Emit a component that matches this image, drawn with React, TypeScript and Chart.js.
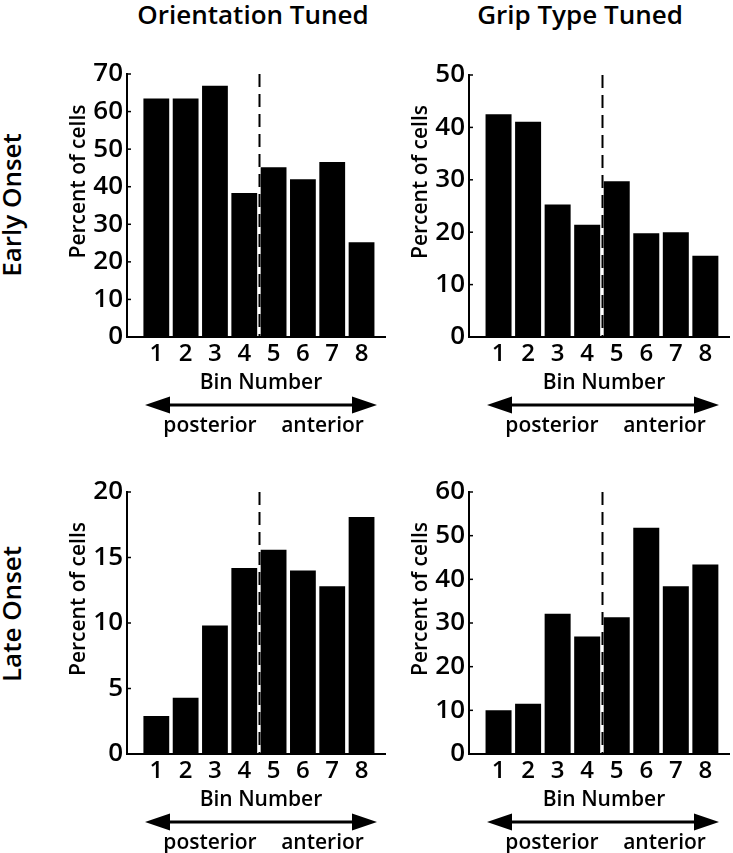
import React, { useEffect, useRef } from 'react';
import { Chart, registerables } from 'chart.js';

Chart.register(...registerables);

// ---- data ----
const bins = [1, 2, 3, 4, 5, 6, 7, 8];
const binTickLabels = ['1', '2', '3', '4', '5', '6', '7', '8'];
const orientationEarly = [63.5, 63.5, 66.9, 38.3, 45.2, 42.0, 46.6, 25.2];
const gripEarly = [42.5, 41.1, 25.3, 21.4, 29.7, 19.8, 20.0, 15.5];
const orientationLate = [2.9, 4.3, 9.8, 14.2, 15.6, 14.0, 12.8, 18.1];
const gripLate = [10.0, 11.5, 32.1, 26.9, 31.3, 51.8, 38.4, 43.4];
const yMaxes = [70, 50, 20, 60];
const ySteps = [10, 10, 5, 10];
const xMax = 8.8;
const boundaryBin = 4.5;
const columnTitles = ['Orientation Tuned', 'Grip Type Tuned'];
const rowTitles = ['Early Onset', 'Late Onset'];
const xTitle = 'Bin Number';
const yTitle = 'Percent of cells';
const posteriorLabel = 'posterior';
const anteriorLabel = 'anterior';

const FONT = "'Open Sans', 'DejaVu Sans', sans-serif";
const WEIGHT = 600;
const Y_AXIS_W = 50;
const X_AXIS_H = 30;

type Area = { left: number; top: number; right: number; bottom: number };
type Box = { left: number; top: number; width: number; height: number };

const panels: { values: number[]; yMax: number; step: number; box: Box; area: Area }[] = [
  { values: orientationEarly, yMax: yMaxes[0], step: ySteps[0], box: { left: 40, top: 45, width: 360, height: 400 }, area: { left: 127, top: 74, right: 385, bottom: 337 } },
  { values: gripEarly, yMax: yMaxes[1], step: ySteps[1], box: { left: 400, top: 45, width: 333, height: 400 }, area: { left: 469, top: 75, right: 729, bottom: 337 } },
  { values: orientationLate, yMax: yMaxes[2], step: ySteps[2], box: { left: 40, top: 460, width: 360, height: 393 }, area: { left: 127, top: 492, right: 385, bottom: 754 } },
  { values: gripLate, yMax: yMaxes[3], step: ySteps[3], box: { left: 400, top: 460, width: 333, height: 393 }, area: { left: 469, top: 492, right: 729, bottom: 754 } },
];

const decorPlugin = {
  id: 'decor',
  afterDatasetsDraw(chart: any) {
    const { ctx, chartArea: a, scales } = chart;
    const x = scales.x;
    const y = scales.y;
    ctx.save();
    ctx.strokeStyle = '#000';
    ctx.fillStyle = '#000';
    // boundary dashed line
    const bx = Math.round(x.getPixelForValue(boundaryBin)) + 0.5;
    ctx.lineWidth = 2;
    ctx.setLineDash([13, 7]);
    ctx.beginPath();
    ctx.moveTo(bx, a.top);
    ctx.lineTo(bx, a.bottom);
    ctx.stroke();
    ctx.setLineDash([]);
    // inward y ticks
    ctx.lineWidth = 1.5;
    y.ticks.forEach((t: any) => {
      const py = y.getPixelForValue(t.value);
      ctx.beginPath();
      ctx.moveTo(a.left, py);
      ctx.lineTo(a.left + 4, py);
      ctx.stroke();
    });
    // y title
    ctx.font = `${WEIGHT} 21px ${FONT}`;
    ctx.save();
    ctx.translate(a.left - 42, (a.top + a.bottom) / 2 - 24);
    ctx.rotate(-Math.PI / 2);
    ctx.textAlign = 'center';
    ctx.textBaseline = 'alphabetic';
    ctx.fillText(yTitle, 0, 0);
    ctx.restore();
    // x title
    ctx.textAlign = 'center';
    ctx.textBaseline = 'alphabetic';
    ctx.fillText(xTitle, x.getPixelForValue(boundaryBin) + 2, a.bottom + 52);
    // arrow
    const ay = a.bottom + 68;
    const x0 = a.left + 18;
    const x1 = a.left + 250;
    const hl = 25;
    const hh = 8.5;
    ctx.lineWidth = 3;
    ctx.beginPath();
    ctx.moveTo(x0 + hl - 2, ay);
    ctx.lineTo(x1 - hl + 2, ay);
    ctx.stroke();
    ctx.beginPath();
    ctx.moveTo(x0, ay);
    ctx.lineTo(x0 + hl, ay - hh);
    ctx.lineTo(x0 + hl, ay + hh);
    ctx.closePath();
    ctx.fill();
    ctx.beginPath();
    ctx.moveTo(x1, ay);
    ctx.lineTo(x1 - hl, ay - hh);
    ctx.lineTo(x1 - hl, ay + hh);
    ctx.closePath();
    ctx.fill();
    // direction labels
    ctx.fillText(posteriorLabel, a.left + 83, a.bottom + 95);
    ctx.fillText(anteriorLabel, a.left + 195.5, a.bottom + 95);
    ctx.restore();
  },
};

function Panel({ values, yMax, step, box, area }: { values: number[]; yMax: number; step: number; box: Box; area: Area }) {
  const ref = useRef<HTMLCanvasElement | null>(null);
  useEffect(() => {
    if (!ref.current) return;
    const chart = new Chart(ref.current, {
      type: 'bar',
      data: {
        datasets: [
          {
            data: bins.map((b, i) => ({ x: b, y: values[i] })),
            backgroundColor: '#000',
            borderWidth: 0,
            barPercentage: 0.88,
            categoryPercentage: 1,
          },
        ],
      },
      options: {
        animation: false,
        responsive: false,
        maintainAspectRatio: false,
        events: [],
        layout: {
          padding: {
            left: area.left - box.left - Y_AXIS_W,
            top: area.top - box.top,
            right: box.left + box.width - area.right,
            bottom: box.top + box.height - area.bottom - X_AXIS_H,
          },
        },
        plugins: { legend: { display: false }, tooltip: { enabled: false }, title: { display: false } },
        scales: {
          x: {
            type: 'linear',
            min: 0,
            max: xMax,
            offset: false,
            afterBuildTicks: (s: any) => {
              s.ticks = bins.map((v) => ({ value: v }));
            },
            afterFit: (s: any) => {
              s.height = X_AXIS_H;
            },
            grid: { display: false, drawTicks: false },
            border: { display: true, color: '#000', width: 2 },
            ticks: {
              color: '#000',
              font: { family: FONT, size: 24, weight: WEIGHT },
              padding: 3,
              autoSkip: false,
              maxRotation: 0,
              callback: (v: any) => binTickLabels[bins.indexOf(Number(v))] ?? '',
            },
          },
          y: {
            min: 0,
            max: yMax,
            afterFit: (s: any) => {
              s.width = Y_AXIS_W;
            },
            grid: { display: false, drawTicks: false },
            border: { display: true, color: '#000', width: 2 },
            ticks: { stepSize: step, color: '#000', font: { family: FONT, size: 26, weight: WEIGHT }, padding: 4 },
          },
        },
      } as any,
      plugins: [decorPlugin],
    } as any);
    return () => chart.destroy();
  }, [values, yMax, step, box, area]);
  return (
    <canvas
      ref={ref}
      width={box.width}
      height={box.height}
      style={{ position: 'absolute', left: box.left, top: box.top, width: box.width, height: box.height }}
    />
  );
}

export default function App() {
  const titleStyle: React.CSSProperties = {
    position: 'absolute',
    top: 1,
    transform: 'translateX(-50%)',
    font: `${WEIGHT} 26px ${FONT}`,
    lineHeight: '27px',
    whiteSpace: 'nowrap',
    color: '#000',
  };
  const rowStyle: React.CSSProperties = {
    position: 'absolute',
    left: 10.5,
    transform: 'translate(-50%, -50%) rotate(-90deg)',
    font: `${WEIGHT} 26px ${FONT}`,
    lineHeight: '27px',
    whiteSpace: 'nowrap',
    color: '#000',
  };
  return (
    <div style={{ position: 'absolute', left: 0, top: 0, width: 733, height: 853, background: '#fff', overflow: 'hidden' }}>
      <div style={{ ...titleStyle, left: 253 }}>{columnTitles[0]}</div>
      <div style={{ ...titleStyle, left: 580 }}>{columnTitles[1]}</div>
      <div style={{ ...rowStyle, top: 205 }}>{rowTitles[0]}</div>
      <div style={{ ...rowStyle, top: 614 }}>{rowTitles[1]}</div>
      {panels.map((p, i) => (
        <Panel key={i} values={p.values} yMax={p.yMax} step={p.step} box={p.box} area={p.area} />
      ))}
    </div>
  );
}
